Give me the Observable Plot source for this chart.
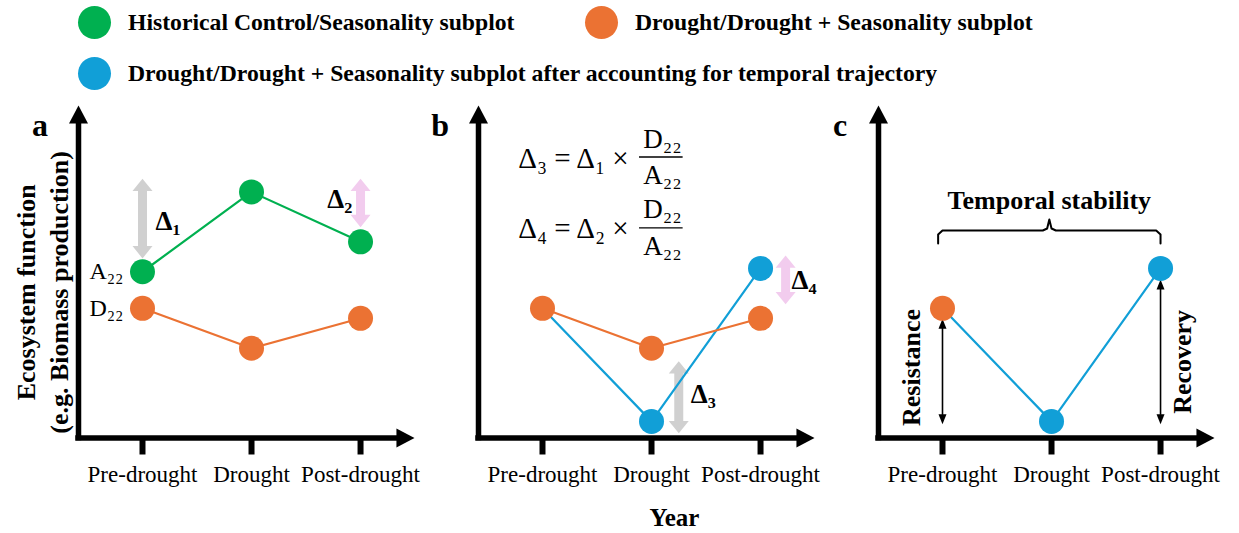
<!DOCTYPE html>
<html>
<head>
<meta charset="utf-8">
<script src="https://cdn.jsdelivr.net/npm/d3@7"></script>
<script src="https://cdn.jsdelivr.net/npm/@observablehq/plot@0.6"></script>
<style>
  body { margin: 0; background: #ffffff; }
  #legend {
    width: 1239px; height: 90px; box-sizing: border-box;
    padding: 6px 0 0 78px;
    display: grid; grid-template-columns: 507px auto; row-gap: 17px;
    font-family: "Liberation Serif", "Times New Roman", serif;
    font-weight: bold; font-size: 23.7px; color: #000;
  }
  .item { display: flex; align-items: center; height: 33px; white-space: nowrap; }
  .item.wide { grid-column: 1 / span 2; }
  .sw { width: 33px; height: 33px; border-radius: 50%; margin-right: 17px; flex: none; }
  #chart svg { display: block; }
</style>
</head>
<body>
<div id="legend"></div>
<div id="chart"></div>
<script>
// ---------------- data ----------------
const stages = ["Pre-drought", "Drought", "Post-drought"];
const controlValues = [5.0, 7.4, 5.9];   // Historical control / seasonality subplot
const droughtValues = [3.9, 2.7, 3.6];   // Drought / drought + seasonality subplot
const adjustedValues = [3.9, 0.5, 5.1];  // drought subplot after accounting for temporal trajectory

const seriesKeys = ["control", "drought", "adjusted"];
const seriesColors = ["#00B050", "#EB7233", "#119FD7"];
const legendLabels = [
  "Historical Control/Seasonality subplot",
  "Drought/Drought + Seasonality subplot",
  "Drought/Drought + Seasonality subplot after accounting for temporal trajectory"
];
const panels = ["a", "b", "c"];

// which series are drawn as lines / dots in each panel
const linePanel = ["a", "a", "b", "b", "c"];
const lineSeries = ["control", "drought", "adjusted", "drought", "adjusted"];
const dotPanel = ["a", "a", "b", "b", "c", "c"];
const dotSeries = ["control", "drought", "drought", "adjusted", "drought", "adjusted"];
const dotStages = [[0, 1, 2], [0, 1, 2], [0, 1, 2], [1, 2], [0], [1, 2]];

// double-headed annotation arrows
const arrowPanel = ["a", "a", "b", "b", "c", "c"];
const arrowX = [1, 3, 2.25, 3.23, 1, 3];
const arrowLow = [5.40, 6.34, 0.14, 4.02, 0.41, 0.41];
const arrowHigh = [7.80, 7.80, 2.31, 5.49, 3.59, 4.77];
const arrowKind = ["grey", "pink", "grey", "pink", "black", "black"];

// delta labels
const deltaPanel = ["a", "a", "b", "b"];
const deltaText = ["Δ₁", "Δ₂", "Δ₃", "Δ₄"];
const deltaX = [1.12, 2.924, 2.36, 3.285];
const deltaY = [6.51, 7.19, 1.32, 4.74];
const deltaAnchor = ["start", "end", "start", "start"];

// reference labels at pre-drought (panel a)
const refText = ["A₂₂", "D₂₂"];
const refValues = [controlValues[0], droughtValues[0]];

// formulas (panel b)
const formulaLeft = ["Δ₃ = Δ₁ ×", "Δ₄ = Δ₂ ×"];
const formulaLeftY = [8.39, 6.29];
const formulaNum = ["D₂₂", "D₂₂"];
const formulaNumY = [8.99, 6.89];
const formulaDen = ["A₂₂", "A₂₂"];
const formulaDenY = [7.89, 5.77];
const formulaBarY = [8.45, 6.32];
const formulaLeftX = 1.79, formulaFracX = 2.10, formulaBar = [1.89, 2.29];

// panel c annotations
const stabilityText = "Temporal stability";
const stabilityX = 1.98, stabilityY = 7.14;
const braceX = [0.96, 0.96, 1.0, 1.92, 1.96, 1.98, 2.0, 2.04, 2.96, 3.0, 3.0];
const braceY = [5.85, 6.12, 6.24, 6.24, 6.30, 6.57, 6.30, 6.24, 6.24, 6.12, 5.85];
const sideText = ["Resistance", "Recovery"];
const sideX = [0.716, 3.207];
const sideY = [2.12, 2.29];

const panelLetterX = 0.06, panelLetterY = 9.40;
const yTitle = "Ecosystem function\n(e.g. Biomass production)";
const yTitleX = 0.069, yTitleY = 4.38;
const xTitle = "Year";
const xTitleX = 2.21, xTitleY = -2.42;

const xDomain = [0.413, 3.495];
const yDomain = [0, 10];

// ---------------- legend ----------------
const legend = document.getElementById("legend");
legendLabels.forEach((lab, i) => {
  const it = document.createElement("div");
  it.className = "item" + (i === 2 ? " wide" : "");
  const sw = document.createElement("span");
  sw.className = "sw";
  sw.style.background = seriesColors[i];
  it.appendChild(sw);
  it.appendChild(document.createTextNode(lab));
  legend.appendChild(it);
});

// ---------------- tables ----------------
const valuesOf = {control: controlValues, drought: droughtValues, adjusted: adjustedValues};
const lineRows = linePanel.flatMap((p, j) =>
  valuesOf[lineSeries[j]].map((v, i) => ({panel: p, key: lineSeries[j] + p, series: lineSeries[j], x: i + 1, y: v})));
const dotRows = dotPanel.flatMap((p, j) =>
  dotStages[j].map(i => ({panel: p, series: dotSeries[j], x: i + 1, y: valuesOf[dotSeries[j]][i]})));
const arrowRows = arrowPanel.map((p, i) => ({panel: p, x: arrowX[i], lo: arrowLow[i], hi: arrowHigh[i], kind: arrowKind[i]}));
const deltaRows = deltaPanel.map((p, i) => ({panel: p, text: deltaText[i], x: deltaX[i], y: deltaY[i], anchor: deltaAnchor[i]}));
const refRows = refText.map((t, i) => ({panel: "a", text: t, x: 1, y: refValues[i]}));
const formulaRows = formulaLeft.map((t, i) => ({panel: "b", left: t, ly: formulaLeftY[i], num: formulaNum[i], ny: formulaNumY[i], den: formulaDen[i], dy: formulaDenY[i], by: formulaBarY[i]}));
const braceRows = braceX.map((x, i) => ({panel: "c", x, y: braceY[i]}));
const sideRows = sideText.map((t, i) => ({panel: "c", text: t, x: sideX[i], y: sideY[i]}));
const axisRows = panels.map(p => ({panel: p}));

// arrowhead symbol: tip at the anchor point, base behind it
const head = (aspect) => ({
  draw(context, size) {
    const w = Math.sqrt(size), h = w * aspect;
    context.moveTo(0, 0);
    context.lineTo(w / 2, h);
    context.lineTo(-w / 2, h);
    context.closePath();
  }
});
const rFor = (w) => w / Math.sqrt(Math.PI);

const arrowStyle = {
  grey: {color: "#D0D0D0", shaft: 9, w: 20, aspect: 0.62},
  pink: {color: "#F2CCEE", shaft: 9, w: 20, aspect: 0.62},
  black: {color: "#000000", shaft: 1.6, w: 8, aspect: 1.25}
};

const serif = "Liberation Serif";
const arrowMarks = Object.entries(arrowStyle).flatMap(([kind, s]) => {
  const rows = arrowRows.filter(d => d.kind === kind);
  const hl = s.w * s.aspect;
  return [
    // y1 = upper end (inset from top), y2 = lower end (inset from bottom)
    Plot.ruleX(rows, {fx: "panel", x: "x", y1: "hi", y2: "lo", stroke: s.color, strokeWidth: s.shaft, insetTop: hl - 1, insetBottom: hl - 1}),
    Plot.dot(rows, {fx: "panel", x: "x", y: "hi", symbol: head(s.aspect), r: rFor(s.w), fill: s.color, stroke: "none"}),
    Plot.dot(rows, {fx: "panel", x: "x", y: "lo", symbol: head(s.aspect), r: rFor(s.w), fill: s.color, stroke: "none", rotate: 180})
  ];
});

const xAxisMark = Plot.axisX
  ? Plot.axisX({ticks: [1, 2, 3], tickFormat: d => stages[d - 1], tickSize: 17, tickPadding: 11,
      strokeWidth: 6, fontSize: 23, fontFamily: serif, fill: "#000", stroke: "#000", label: null})
  : null;

const chart = Plot.plot({
  width: 1239,
  height: 443,
  marginTop: 15,
  marginBottom: 95.5,
  marginLeft: 78,
  marginRight: 25,
  style: {fontFamily: serif, color: "#000", background: "#fff", overflow: "visible"},
  fx: {domain: panels, paddingInner: 0.16, paddingOuter: 0, axis: null, label: null},
  x: {domain: xDomain, axis: null},
  y: {domain: yDomain, axis: null},
  color: {domain: seriesKeys, range: seriesColors},
  marks: [
    // axes drawn as arrows
    Plot.ruleX(axisRows, {fx: "panel", x: () => xDomain[0], y1: () => yDomain[1], y2: () => yDomain[0], stroke: "#000", strokeWidth: 5.5, strokeLinecap: "square", insetTop: 12}),
    Plot.ruleY(axisRows, {fx: "panel", y: () => yDomain[0], x1: () => xDomain[0], x2: () => xDomain[1], stroke: "#000", strokeWidth: 5.5, strokeLinecap: "square", insetRight: 12}),
    Plot.dot(axisRows, {fx: "panel", x: () => xDomain[0], y: () => yDomain[1], symbol: head(0.95), r: rFor(19), fill: "#000", stroke: "none"}),
    Plot.dot(axisRows, {fx: "panel", x: () => xDomain[1], y: () => yDomain[0], symbol: head(0.95), r: rFor(19), fill: "#000", stroke: "none", rotate: 90}),
    ...(xAxisMark ? [xAxisMark] : []),

    // annotation arrows
    ...arrowMarks,

    // series lines and points
    Plot.line(lineRows, {fx: "panel", x: "x", y: "y", z: "key", stroke: d => d.series, strokeWidth: 2.2}),
    Plot.dot(dotRows, {fx: "panel", x: "x", y: "y", fill: "series", r: 12.5, stroke: "none"}),

    // panel letters
    Plot.text(axisRows, {fx: "panel", x: () => panelLetterX, y: () => panelLetterY, text: "panel", fontSize: 32, fontWeight: "bold", fill: "#000"}),

    // y title
    Plot.text([{panel: "a"}], {fx: "panel", x: () => yTitleX, y: () => yTitleY, text: () => yTitle, rotate: -90, fontSize: 26, fontWeight: "bold", lineHeight: 1.27, fill: "#000"}),

    // x title
    Plot.text([{panel: "b"}], {fx: "panel", x: () => xTitleX, y: () => xTitleY, text: () => xTitle, fontSize: 25, fontWeight: "bold", fill: "#000"}),

    // delta labels
    Plot.text(deltaRows.filter(d => d.anchor === "start"), {fx: "panel", x: "x", y: "y", text: "text", textAnchor: "start", fontSize: 27, fontWeight: "bold", fill: "#000"}),
    Plot.text(deltaRows.filter(d => d.anchor === "end"), {fx: "panel", x: "x", y: "y", text: "text", textAnchor: "end", fontSize: 27, fontWeight: "bold", fill: "#000"}),

    // A22 / D22
    Plot.text(refRows, {fx: "panel", x: "x", y: "y", text: "text", textAnchor: "end", dx: -19, fontSize: 24, fill: "#000"}),

    // formulas
    Plot.text(formulaRows, {fx: "panel", x: () => formulaLeftX, y: "ly", text: "left", textAnchor: "end", fontSize: 29, fill: "#000"}),
    Plot.text(formulaRows, {fx: "panel", x: () => formulaFracX, y: "ny", text: "num", fontSize: 27, fill: "#000"}),
    Plot.text(formulaRows, {fx: "panel", x: () => formulaFracX, y: "dy", text: "den", fontSize: 27, fill: "#000"}),
    Plot.ruleY(formulaRows, {fx: "panel", y: "by", x1: () => formulaBar[0], x2: () => formulaBar[1], stroke: "#000", strokeWidth: 1.4}),

    // panel c: temporal stability brace, resistance / recovery
    Plot.line(braceRows, {fx: "panel", x: "x", y: "y", stroke: "#000", strokeWidth: 2, strokeLinejoin: "round"}),
    Plot.text([{panel: "c"}], {fx: "panel", x: () => stabilityX, y: () => stabilityY, text: () => stabilityText, fontSize: 26, fontWeight: "bold", fill: "#000"}),
    Plot.text(sideRows, {fx: "panel", x: "x", y: "y", text: "text", rotate: -90, fontSize: 26, fontWeight: "bold", fill: "#000"})
  ]
});
document.getElementById("chart").appendChild(chart);
</script>
</body>
</html>
